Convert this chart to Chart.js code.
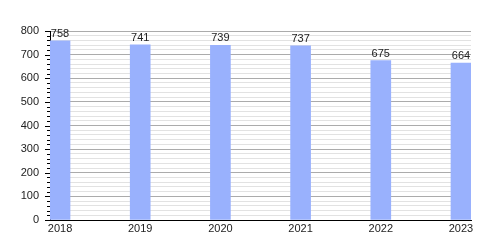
<!DOCTYPE html>
<html>
<head>
<meta charset="utf-8">
<script src="https://cdn.jsdelivr.net/npm/chart.js@4"></script>
<style>
  html, body { margin: 0; padding: 0; background: #fff; }
  #wrap { width: 500px; height: 250px; }
</style>
</head>
<body>
<div id="wrap"><canvas id="popChart"></canvas></div>
<script>
const years = [2018, 2019, 2020, 2021, 2022, 2023];
const population = [758, 741, 739, 737, 675, 664];
const yTicks = [0, 100, 200, 300, 400, 500, 600, 700, 800];

Chart.defaults.font.family = '"Liberation Sans", Arial, sans-serif';
Chart.defaults.font.size = 11;
Chart.defaults.color = '#222';

// value labels above each bar
const valueLabels = {
  id: 'valueLabels',
  afterDatasetsDraw(chart) {
    const c = chart.ctx;
    const meta = chart.getDatasetMeta(0);
    c.save();
    c.font = '11px "Liberation Sans", Arial, sans-serif';
    c.fillStyle = '#222';
    c.textAlign = 'center';
    c.textBaseline = 'alphabetic';
    meta.data.forEach(function(bar, i) {
      c.fillText(population[i], bar.x, bar.y - 4);
    });
    c.restore();
  }
};

// small tick marks on the y axis, longer at every 100
const yTickMarks = {
  id: 'yTickMarks',
  afterDraw(chart) {
    const y = chart.scales.y;
    const c = chart.ctx;
    c.save();
    c.strokeStyle = '#000';
    c.lineWidth = 1;
    y.ticks.forEach(function(t) {
      const py = Math.round(y.getPixelForValue(t.value)) + 0.5;
      const len = t.value % 100 === 0 ? 5 : 3;
      c.beginPath();
      c.moveTo(y.right - len, py);
      c.lineTo(y.right, py);
      c.stroke();
    });
    c.restore();
  }
};

const chart = new Chart(document.getElementById('popChart'), {
  type: 'bar',
  data: {
    datasets: [{
      data: years.map(function(yr, i) { return { x: yr, y: population[i] }; }),
      backgroundColor: '#99b1fd',
      barThickness: 20
    }]
  },
  options: {
    responsive: true,
    maintainAspectRatio: false,
    animation: false,
    events: [],
    layout: { padding: { left: 0, right: 29, top: 31, bottom: 0 } },
    plugins: {
      legend: { display: false },
      tooltip: { enabled: false }
    },
    scales: {
      x: {
        type: 'linear',
        offset: false,
        min: 2017.875,
        max: 2023.125,
        afterBuildTicks: function(axis) {
          axis.ticks = years.map(function(v) { return { value: v }; });
        },
        afterFit: function(axis) { axis.height = 30; },
        ticks: {
          padding: 2,
          callback: function(v) { return String(v); }
        },
        grid: { display: false, drawTicks: false, offset: false },
        border: { display: true, color: '#000', width: 1 }
      },
      y: {
        min: 0,
        max: 800,
        afterFit: function(axis) { axis.width = 50; },
        ticks: {
          stepSize: 20,
          autoSkip: false,
          padding: 11,
          callback: function(v) { return yTicks.includes(v) ? v : ''; }
        },
        grid: {
          drawTicks: false,
          color: function(ctx) {
            return ctx.tick && ctx.tick.value % 100 === 0 ? '#ababab' : '#e2e2e2';
          }
        },
        border: { display: true, color: '#000', width: 1 }
      }
    }
  },
  plugins: [valueLabels, yTickMarks]
});
</script>
</body>
</html>
